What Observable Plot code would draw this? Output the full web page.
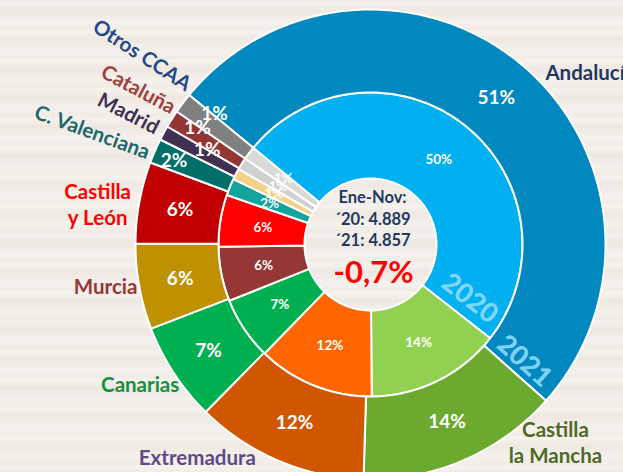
<!DOCTYPE html>
<html>
<head>
<meta charset="utf-8">
<script src="https://cdn.jsdelivr.net/npm/d3@7"></script>
<script src="https://cdn.jsdelivr.net/npm/@observablehq/plot@0.6"></script>
<style>
  html, body { margin: 0; padding: 0; overflow: hidden; }
  body {
    width: 623px; height: 472px;
    background-color: #F1ECE6;
    background-image: repeating-linear-gradient(180deg,
      rgba(255,255,255,0.0) 0px, rgba(255,255,255,0.35) 3px, rgba(255,255,255,0.0) 7px,
      rgba(210,195,180,0.10) 11px, rgba(255,255,255,0.0) 16px, rgba(255,255,255,0.25) 22px, rgba(255,255,255,0) 29px);
  }
  #chart svg { display: block; }
</style>
</head>
<body>
<div id="chart"></div>
<script>
// ---- data ----
const categories = ["Andalucía","Castilla la Mancha","Extremadura","Canarias","Murcia","Castilla y León","C. Valenciana","Madrid","Cataluña","Otros CCAA"];
const labelNames = ["Andalucía","Castilla\nla Mancha","Extremadura","Canarias","Murcia","Castilla\ny León","C. Valenciana","Madrid","Cataluña","Otros CCAA"];
const share2020 = [49.6, 14.3, 12.4, 6.7, 5.8, 5.5, 1.8, 1.2, 1.3, 1.4];
const share2021 = [50.6, 13.9, 11.9, 6.8, 5.9, 5.6, 1.7, 1.0, 1.2, 1.4];
const years = ["2020", "2021"];
const totals = [4889, 4857];
const period = "Ene-Nov";

// ---- styles ----
const colors2020 = ["#00B0F0","#92D050","#FF6600","#00B050","#953735","#FF0000","#12A39B","#F2D28A","#D0D0D0","#D9D9D9"];
const colors2021 = ["#0088BF","#6BAA2E","#D15600","#00B050","#BF9000","#C00000","#006F67","#403152","#943634","#808080"];
const labelColors = ["#1F3864","#4E6A25","#604A8A","#12923C","#953735","#FF0000","#21676A","#403152","#A0403C","#254A86"];
// category label nudges (screen px) relative to the slice's mid-angle anchor, rotation, anchor
const labelDx = [9, 84, -73, -17, -14, -22, -44, -17, -16, -24];
const labelDy = [23, -37, -22, 0, -5, 5, -12, -11, -20, -37];
const labelRotate = [0, 0, 0, 0, 0, 0, 20, 27, 28, 33];
const labelAnchor = ["start","middle","middle","middle","middle","middle","middle","middle","middle","middle"];
// outer percent label nudges (angle in degrees, radius in px)
const outerPctDa = [0, 0, 0, 0, 0, 0, -0.5, 1.7, 1.7, 3];
const outerPctDr = [0, 0, 0, 0, 0, 0, 20, -5, 15, 10];

const W = 623, H = 472, CX = 370, CY = 244;
const R0 = 66, R1 = 152, R2 = 235, RL = 255;
const startDeg = 309.5;
const rad = Math.PI / 180;

const pie = d3.pie().sort(null).value(d => d)
  .startAngle(startDeg * rad).endAngle(startDeg * rad + 2 * Math.PI);

function ring(shares, colors, r0, r1, ringName, da, dr) {
  const arcs = pie(shares);
  const total = d3.sum(shares);
  const polys = [], labels = [];
  arcs.forEach((a, i) => {
    const n = Math.max(2, Math.ceil((a.endAngle - a.startAngle) / rad));
    for (let k = 0; k <= n; k++) {
      const t = a.startAngle + (a.endAngle - a.startAngle) * k / n;
      polys.push({key: ringName + i, x: r1 * Math.sin(t), y: r1 * Math.cos(t), color: colors[i]});
    }
    for (let k = n; k >= 0; k--) {
      const t = a.startAngle + (a.endAngle - a.startAngle) * k / n;
      polys.push({key: ringName + i, x: r0 * Math.sin(t), y: r0 * Math.cos(t), color: colors[i]});
    }
    const m = (a.startAngle + a.endAngle) / 2;
    const ml = m + (da ? da[i] : 0) * rad, rm = (r0 + r1) / 2 + (dr ? dr[i] : 0);
    labels.push({x: rm * Math.sin(ml), y: rm * Math.cos(ml),
      text: Math.round(a.value / total * 100 + 1e-9) + "%", mid: m, start: a.startAngle, end: a.endAngle});
  });
  return {polys, labels};
}

const inner = ring(share2020, colors2020, R0, R1, "a");
const outer = ring(share2021, colors2021, R1, R2, "b", outerPctDa, outerPctDr);

const catLabels = outer.labels.map((l, i) => ({
  x: RL * Math.sin(l.mid) + labelDx[i],
  y: RL * Math.cos(l.mid) - labelDy[i],
  text: labelNames[i], fill: labelColors[i], rotate: labelRotate[i], anchor: labelAnchor[i]
}));

// year tags along the Andalucía / Castilla la Mancha boundary
const bIn = inner.labels[0].end - 9.5 * rad, bOut = outer.labels[0].end - 4.5 * rad;
const yearTags = [
  {x: 113 * Math.sin(bIn), y: 113 * Math.cos(bIn), text: years[0], rot: (inner.labels[0].end / rad) - 90},
  {x: 193 * Math.sin(bOut), y: 193 * Math.cos(bOut), text: years[1], rot: (outer.labels[0].end / rad) - 90}
];

const fmt = d3.formatLocale({decimal: ",", thousands: ".", grouping: [3], minus: "-"});
const change = (totals[1] / totals[0] - 1) * 100;
const centerLines = [
  {y: 47, text: period + ":"},
  {y: 25, text: "´" + years[0].slice(2) + ": " + fmt.format(",")(totals[0])},
  {y: 4, text: "´" + years[1].slice(2) + ": " + fmt.format(",")(totals[1])}
];
const centerChange = [{y: -29, text: fmt.format(".1f")(change) + "%"}];

const font = "Lato, 'Open Sans', sans-serif";

const chart = Plot.plot({
  width: W, height: H, margin: 0,
  x: {domain: [-CX, W - CX], axis: null},
  y: {domain: [CY - H, CY], axis: null},
  color: {type: "identity"},
  style: {background: "transparent", fontFamily: font},
  marks: [
    Plot.line(inner.polys, {x: "x", y: "y", z: "key", fill: "color", stroke: "white", strokeWidth: 2, curve: "linear-closed", strokeLinejoin: "round"}),
    Plot.line(outer.polys, {x: "x", y: "y", z: "key", fill: "color", stroke: "white", strokeWidth: 2, curve: "linear-closed", strokeLinejoin: "round"}),
    Plot.text(yearTags, {x: "x", y: "y", text: "text", rotate: "rot", fill: "#8EDDFB", fillOpacity: 0.9, fontSize: 27, fontWeight: 900, letterSpacing: 1}),
    Plot.text(inner.labels, {x: "x", y: "y", text: "text", fill: "white", fontSize: 13.5, fontWeight: 700}),
    Plot.text(outer.labels, {x: "x", y: "y", text: "text", fill: "white", fontSize: 19, fontWeight: 700}),
    Plot.text(catLabels.filter(d => d.anchor === "middle"), {x: "x", y: "y", text: "text", fill: "fill", rotate: "rotate", textAnchor: "middle", fontSize: 20.5, fontWeight: 700, lineHeight: 1.25}),
    Plot.text(catLabels.filter(d => d.anchor === "start"), {x: "x", y: "y", text: "text", fill: "fill", rotate: "rotate", textAnchor: "start", fontSize: 20.5, fontWeight: 700}),
    Plot.text(centerLines, {x: () => 2, y: "y", text: "text", fill: "#1F3864", fontSize: 16.5, fontWeight: 700}),
    Plot.text(centerChange, {x: () => 3, y: "y", text: "text", fill: "#FF0000", fontSize: 31, fontWeight: 700})
  ]
});
document.getElementById("chart").appendChild(chart);
</script>
</body>
</html>
